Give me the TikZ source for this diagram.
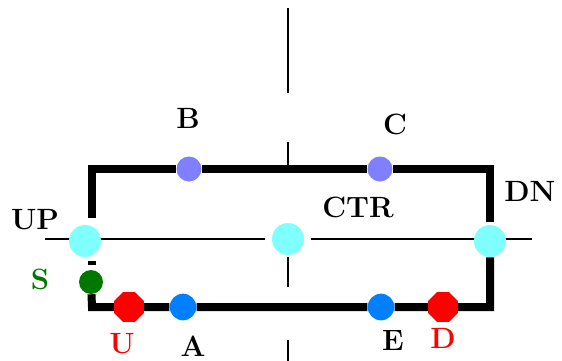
\documentclass[tikz,border=0pt]{standalone}
\usepackage{tikz}
\usetikzlibrary{shapes.geometric, backgrounds}
\definecolor{ptcyan}{HTML}{80FFFF}
\definecolor{ptpurple}{HTML}{8080FF}
\definecolor{ptblue}{HTML}{0080FF}
\definecolor{ptgreen}{HTML}{007800}

\begin{document}
\begin{tikzpicture}[x=0.75pt, y=-0.75pt,
  bar/.style={line width=6pt},
  centreline/.style={line width=1pt},
  dot/.style={circle, inner sep=0pt, minimum size=#1},
  oct/.style={regular polygon, regular polygon sides=8, inner sep=0pt, minimum size=24pt, fill=red},
  lbl/.style={inner sep=0pt, font=\fontsize{22}{26}\selectfont\bfseries}]
\useasboundingbox (0,0) rectangle (562,361);
% points on the loop
\node[dot=24pt, fill=ptcyan] (UP) at (85,241) {};
\node[dot=24pt, fill=ptcyan] (CTR) at (288,239) {};
\node[dot=24pt, fill=ptcyan] (DN) at (490,241) {};
\node[dot=18.75pt, fill=ptpurple] (B) at (189,169) {};
\node[dot=18.75pt, fill=ptpurple] (C) at (380,169) {};
\node[dot=18pt, fill=ptgreen] (S) at (91,282) {};
\node[oct] (U) at (129,307) {};
\node[dot=20pt, fill=ptblue] (A) at (183,307) {};
\node[dot=20pt, fill=ptblue] (E) at (381,307) {};
\node[oct] (D) at (443,307) {};
% corners and free ends
\coordinate (ul) at (92,218);
\coordinate (tl) at (92,169);
\coordinate (tr) at (490,169);
\coordinate (ur) at (490,222);
\coordinate (gs) at (92,261);
\coordinate (ge) at (92,265);
\coordinate (bl) at (92,307);
\coordinate (br) at (490,307);
\coordinate (hl) at (45,239);
\coordinate (hr) at (532,239);
\coordinate (v1) at (288,8);
\coordinate (v2) at (288,93);
\coordinate (v3) at (288,142);
\coordinate (tm) at (288,169);
\coordinate (v5) at (288,287);
\coordinate (v6) at (288,340);
\coordinate (v7) at (288,361);
\begin{scope}[on background layer]
\draw[centreline, shorten >=5pt] (hl) -- (CTR);
\draw[centreline, shorten >=5pt] (hr) -- (CTR);
\draw[centreline] (v1) -- (v2);
\draw[centreline] (v3) -- (tm);
\draw[centreline, shorten <=1.5pt] (CTR) -- (v5);
\draw[centreline] (v6) -- (v7);
\draw[bar] (ul) -- (tl) -- (B) -- (C) -- (tr) -- (ur);
\draw[bar] (DN) -- (br) -- (D) -- (E) -- (A) -- (U) -- (bl) -- (S);
\draw[bar] (gs) -- (ge);
\end{scope}
% labels
\node[lbl] (labB) at (188,118) {B};
\node[lbl] (labC) at (395,124) {C};
\node[lbl] (labCTR) at (358,207) {CTR};
\node[lbl] (labUP) at (35,220) {UP};
\node[lbl] (labDN) at (530,191) {DN};
\node[lbl, text=ptgreen] (labS) at (40,279) {S};
\node[lbl, text=red] (labU) at (122,344) {U};
\node[lbl] (labA) at (193,346) {A};
\node[lbl] (labE) at (393,341) {E};
\node[lbl, text=red] (labD) at (443,338) {D};
\end{tikzpicture}
\end{document}
